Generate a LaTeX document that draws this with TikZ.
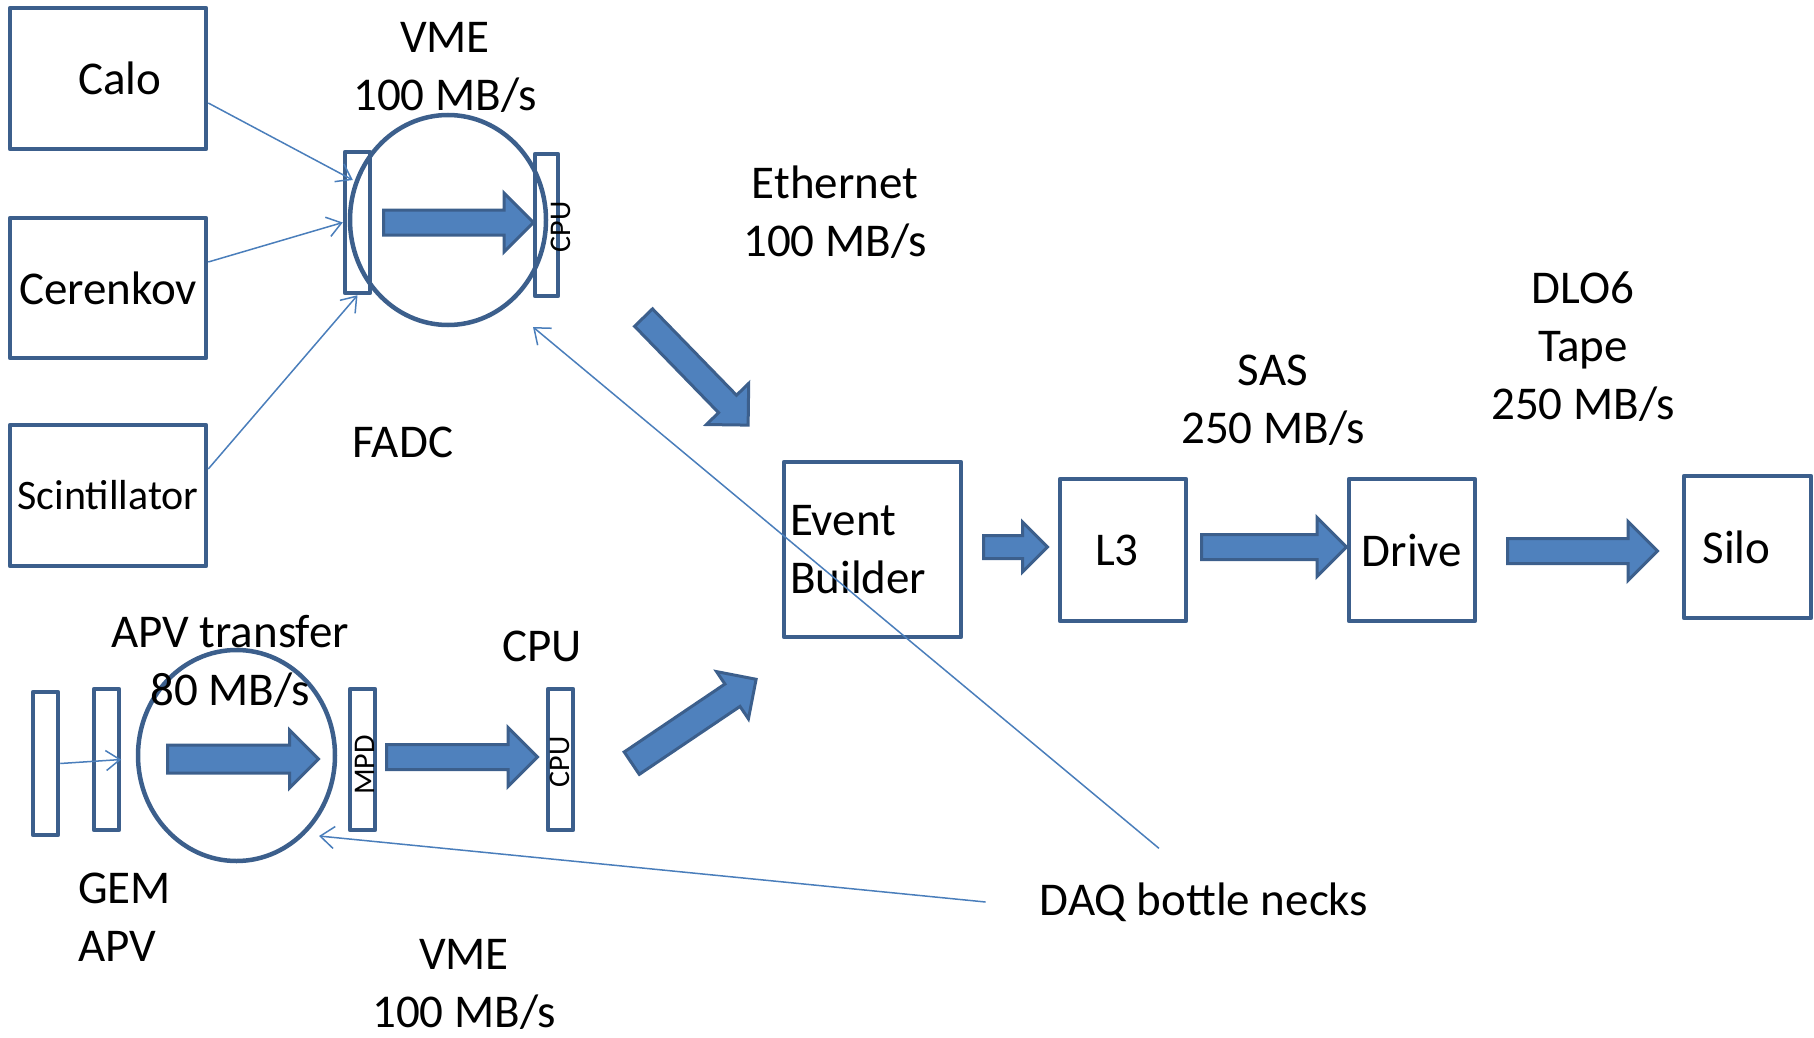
\documentclass[tikz,border=0pt]{standalone}
\usepackage{fontspec}
\setmainfont{Carlito}
\usetikzlibrary{shapes.geometric,shapes.arrows,arrows.meta}
\definecolor{boxline}{RGB}{60,95,140}
\definecolor{arrowfill}{RGB}{79,129,189}
\definecolor{thinline}{RGB}{74,126,187}
\tikzset{
  txt/.style={font=\fontsize{47}{58}\selectfont, align=center, inner sep=0pt},
  box/.style={txt, draw=boxline, line width=4.5pt, line join=round},
  bar/.style={draw=boxline, line width=4.5pt, line join=round, minimum width=25pt, minimum height=141pt, inner sep=0pt},
  barlbl/.style={rotate=90, inner sep=0pt, font=\fontsize{30}{36}\selectfont},
  ring/.style={ellipse, draw=boxline, line width=4.5pt, inner sep=0pt},
  fat/.style={single arrow, draw=boxline, fill=arrowfill, line width=3pt, inner xsep=0pt, inner ysep=11pt, single arrow head extend=17pt, anchor=tail},
  feed/.style={draw=thinline, line width=1.5pt, -{Straight Barb[length=14pt,width=20pt]}},
  neck/.style={draw=thinline, line width=1.5pt, -{Straight Barb[length=14pt,width=22pt]}}
}

\begin{document}
\begin{tikzpicture}[x=1pt,y=-1pt]
\useasboundingbox (0,0) rectangle (1814,1038);

% detectors
\node[box, minimum width=196pt, minimum height=141pt] (calo) at (108,78.5) {\hspace*{24pt}Calo};
\node[box, minimum width=196pt, minimum height=140pt] (cer) at (108,288) {Cerenkov};
\node[box, minimum width=196pt, minimum height=141pt, font=\fontsize{42}{50}\selectfont] (scint) at (108,495.5) {Scintillator};

% FADC crate
\node[bar] (fadc) at (357.5,222.5) {};
\node[bar, minimum width=23pt, minimum height=142pt] (fcpu) at (546.5,225) {};
\node[barlbl] (fcpulbl) at (561,227) {CPU};
\node[ring, minimum width=196pt, minimum height=210pt] (fring) at (448,220) {};
\node[fat, minimum height=150pt] (fadcarr) at (382,222.5) {};
\node[txt] (vmetop) at (445,67) {VME\\100 MB/s};
\node[txt] (fadclbl) at (403,442) {FADC};

\draw[feed] ([yshift=-24.5pt]calo.east) -- ([xshift=10pt,yshift=42.5pt]fadc.west);
\draw[feed] ([yshift=26pt]cer.east) -- (fadc.west);
\draw[feed] ([yshift=26.5pt]scint.east) -- (fadc.south);

% ethernet
\node[txt] (eth) at (835,212) {Ethernet\\100 MB/s};
\node[fat, minimum height=150pt, rotate=-45.8] (etharr) at (642.5,316.5) {};

% GEM side
\node[bar, minimum height=143pt] (gem1) at (45.5,763.5) {};
\node[bar] (gem2) at (106.5,759.5) {};
\draw[feed] (gem1.east) -- (gem2.east);
\node[ring, minimum width=197pt, minimum height=211pt] (aring) at (236.5,755.5) {};
\node[fat, minimum height=151pt, inner ysep=12.5pt, single arrow head extend=15pt] (aparr) at (166,759) {};
\node[bar] (mpd) at (362.5,759.5) {};
\node[barlbl] (mpdlbl) at (365,765) {MPD};
\node[fat, minimum height=151pt] (mpdarr) at (385,757) {};
\node[bar] (acpu) at (560.5,759.5) {};
\node[barlbl] (acpulbl) at (560,762) {CPU};
\node[fat, minimum height=150pt, rotate=34, inner ysep=12pt, single arrow head extend=15pt] (cpuarr) at (630.5,764) {};

\node[txt] (apv) at (230,661) {APV transfer\\80 MB/s};
\node[txt] (cpulbl) at (542,646) {CPU};
\node[txt, align=left, anchor=west] (gem) at (78,917) {GEM\\APV};
\node[txt] (vmelow) at (464,984) {VME\\100 MB/s};

% event building and storage
\node[box, minimum width=177pt, minimum height=175pt, text width=165pt, align=left, inner xsep=6pt] (eb) at (872.5,549.5) {Event\\Builder};
\node[fat, minimum height=64pt, inner ysep=10pt, single arrow head extend=13.5pt] (ebarr) at (982,547) {};
\node[box, minimum width=126pt, minimum height=142pt] (l3) at (1123,550) {L3\hspace*{12pt}};
\node[fat, minimum height=145pt] (l3arr) at (1200,547) {};
\node[box, minimum width=126pt, minimum height=142pt] (drive) at (1412,550) {Drive};
\node[fat, minimum height=150pt] (drvarr) at (1506,551) {};
\node[box, minimum width=127pt, minimum height=142pt] (silo) at (1747.5,547) {Silo\hspace*{22pt}};
\node[txt] (sas) at (1273,400) {SAS\\250 MB/s};
\node[txt] (tape) at (1583,347) {DLO6\\Tape\\250 MB/s};

% bottle necks
\node[txt] (daq) at (1204,902) {DAQ bottle necks};
\coordinate (neckup) at (533,327);
\coordinate (necklow) at (319,836);
\draw[neck] ([xshift=-45pt,yshift=34pt]daq.north) -- (neckup);
\draw[neck] ([xshift=-54pt]daq.west) -- (necklow);
\end{tikzpicture}
\end{document}
